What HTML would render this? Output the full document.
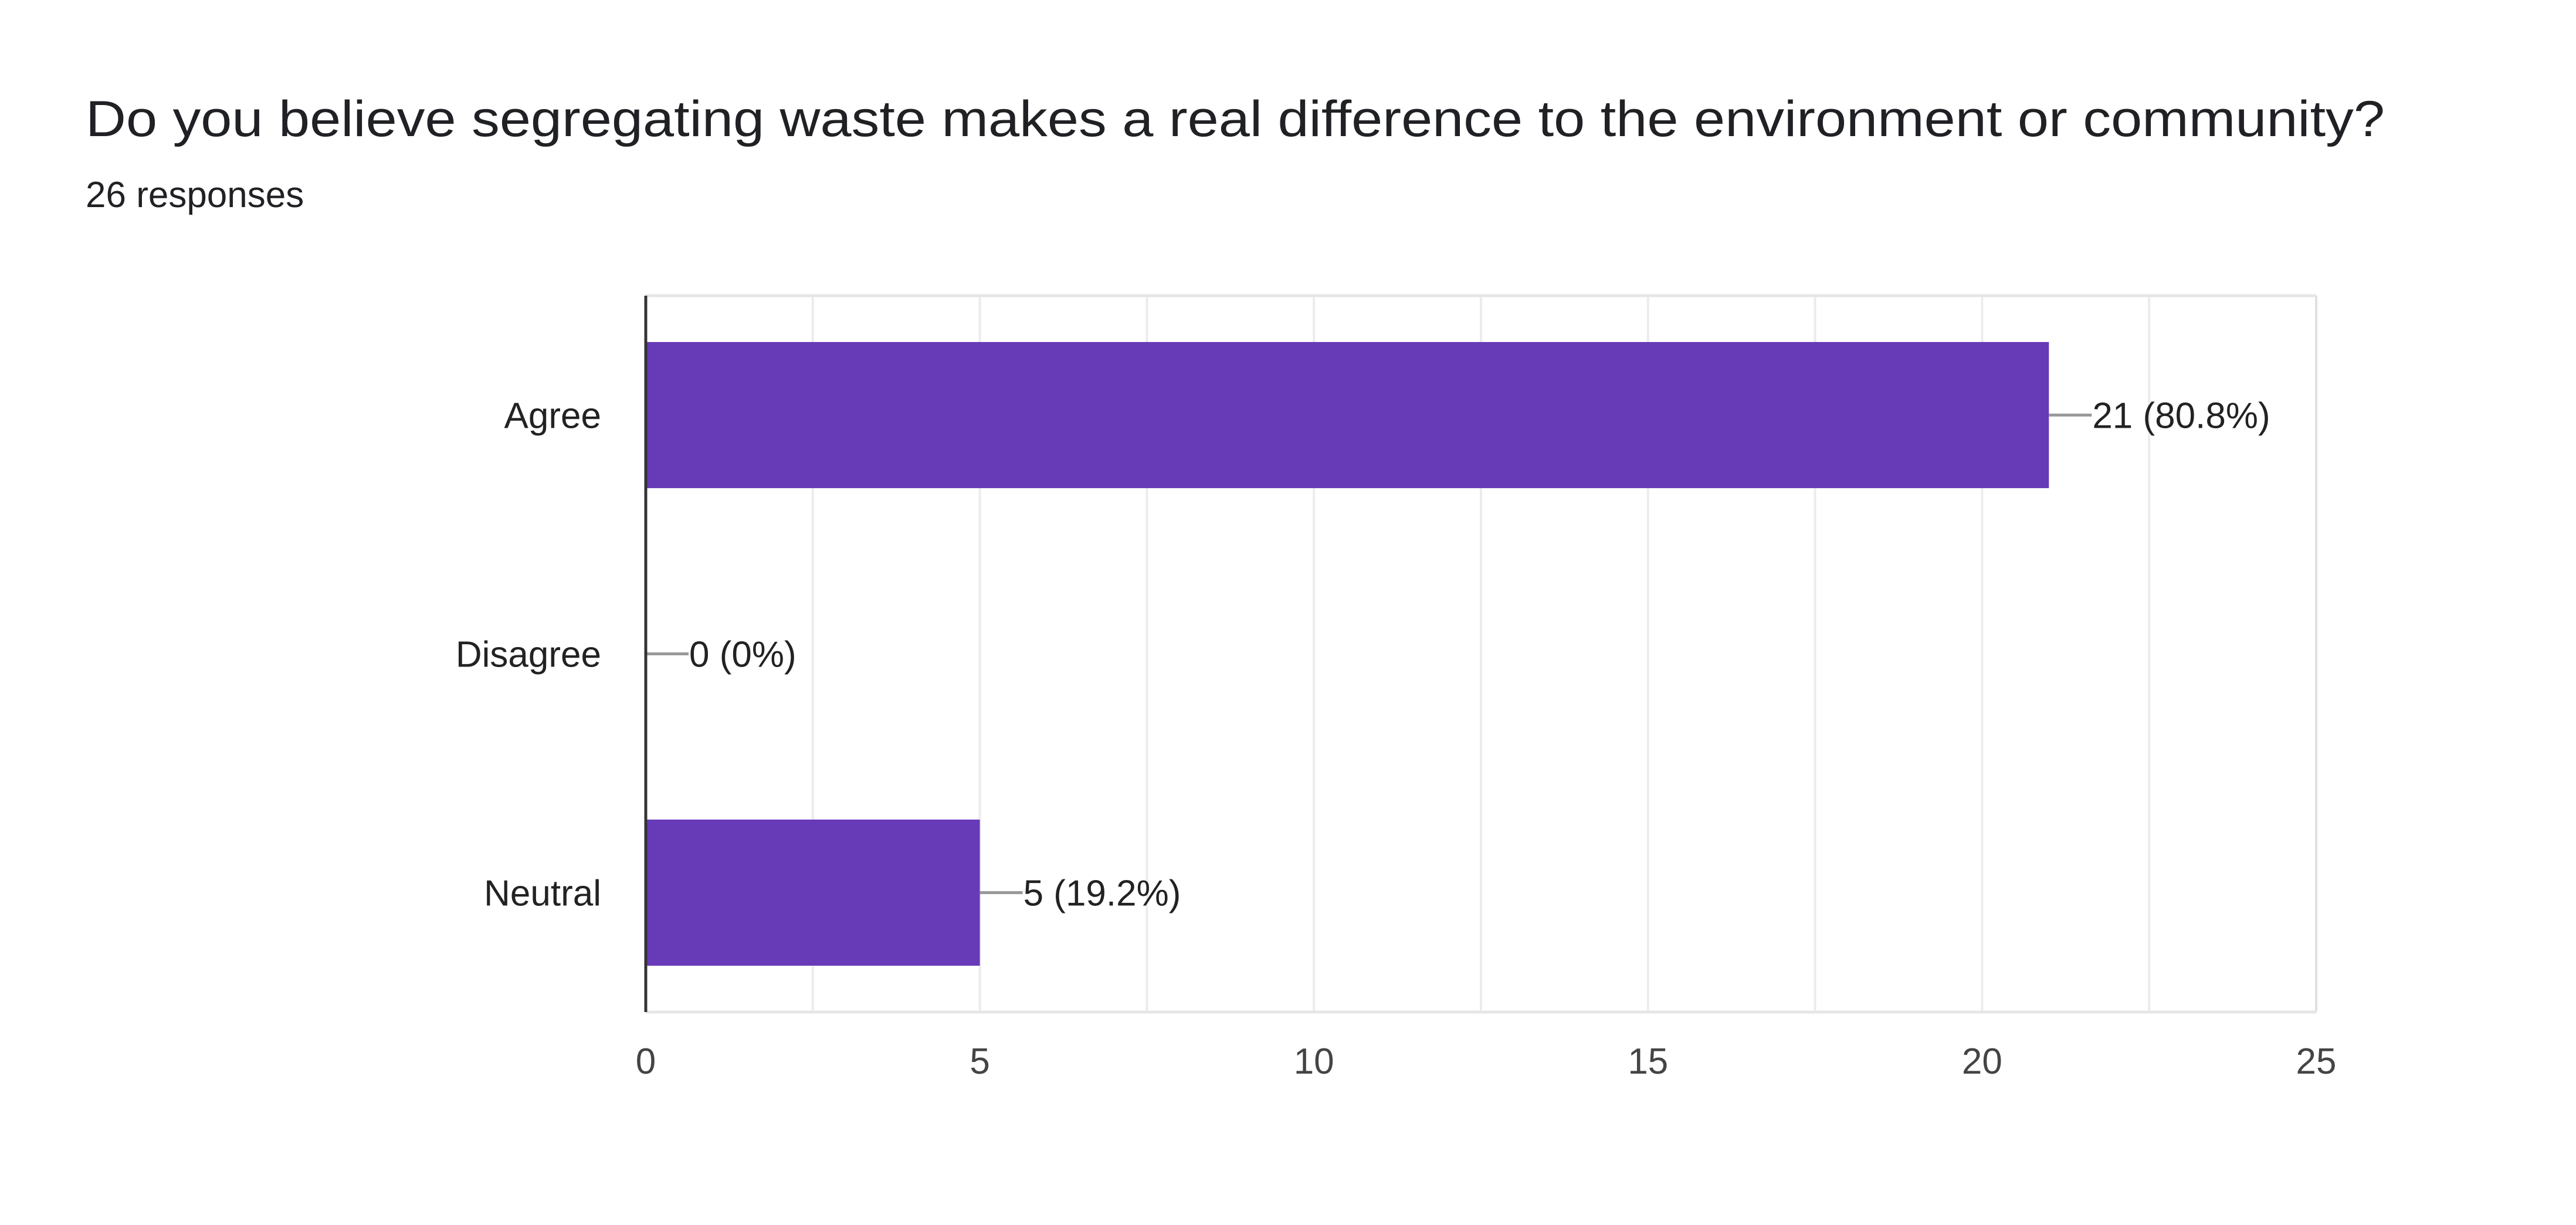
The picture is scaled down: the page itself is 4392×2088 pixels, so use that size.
<!DOCTYPE html>
<html><head><meta charset="utf-8"><style>
html,body{margin:0;padding:0;background:#fff;}
svg{display:block;font-family:"Liberation Sans",Arial,sans-serif;}
</style></head><body>
<svg id="chart" width="4392" height="2088" viewBox="0 0 4392 2088">
<text x="146" y="232" font-size="86" fill="#202124" textLength="3920" lengthAdjust="spacingAndGlyphs">Do you believe segregating waste makes a real difference to the environment or community?</text>
<text x="146" y="353" font-size="62" fill="#202124">26 responses</text>
<g id="grid"></g>
<g id="bars"></g>
<g id="labels"></g>
</svg>
<script>
const categories = ["Agree","Disagree","Neutral"];
const values = [21,0,5];
const valueLabels = ["21 (80.8%)","0 (0%)","5 (19.2%)"];
const xTicks = [0,5,10,15,20,25];
const NS="http://www.w3.org/2000/svg";
const L=1101,R=3949,T=504,B=1725,XMAX=25;
const x=v=>L+(R-L)*v/XMAX;
const band=(B-T)/categories.length;
const yc=i=>T+band*(i+0.5);
function mk(tag,attrs,parent){const e=document.createElementNS(NS,tag);for(const k in attrs)e.setAttribute(k,attrs[k]);parent.appendChild(e);return e;}
const grid=document.getElementById('grid'),bars=document.getElementById('bars'),labels=document.getElementById('labels');
for(let v=2.5;v<=XMAX;v+=2.5){
  const g=mk('line',{x1:x(v),x2:x(v),y1:T,y2:B,stroke:v===XMAX?'#e0e0e0':'#ececec','stroke-width':4},grid);
  
  
}
const tl=mk('line',{x1:L,x2:R,y1:T,y2:T,stroke:'#e6e6e6','stroke-width':5},grid);


const bl=mk('line',{x1:L,x2:R,y1:B,y2:B,stroke:'#e6e6e6','stroke-width':5},grid);


xTicks.forEach(t=>{
  const e=mk('text',{x:x(t),y:1830,'font-size':62,fill:'#444','text-anchor':'middle'},labels);
  e.textContent=t;
  
  
});
const bh=band*0.612;
categories.forEach((c,i)=>{
  const cy=yc(i);
  const lab=mk('text',{x:1025,y:cy+22,'font-size':62,fill:'#222','text-anchor':'end'},labels);
  lab.textContent=c;
  
  
  if(values[i]>0){
    const r=mk('rect',{x:L,y:cy-bh/2,width:x(values[i])-L,height:bh,fill:'#673ab7'},bars);
    
    
  }
  const ex=x(values[i]);
  const ld=mk('line',{x1:ex,x2:ex+73,y1:cy,y2:cy,stroke:'#999','stroke-width':5},labels);
  
  
  const vl=mk('text',{x:ex+74,y:cy+22,'font-size':62,fill:'#222'},labels);
  vl.textContent=valueLabels[i];
  
  
});
const ax=mk('line',{x1:L,x2:L,y1:T,y2:B,stroke:'#333','stroke-width':5},labels);


</script>
</body></html>
